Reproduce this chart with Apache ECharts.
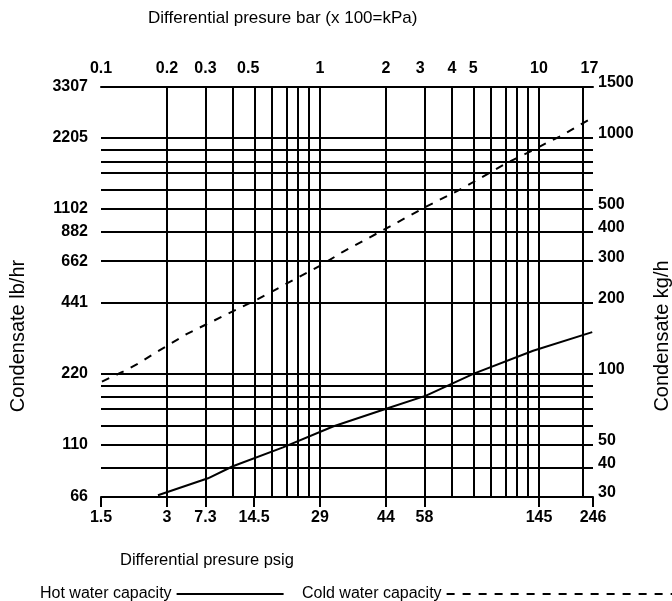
<!DOCTYPE html>
<html>
<head>
<meta charset="utf-8">
<script src="https://cdn.jsdelivr.net/npm/echarts@6/dist/echarts.min.js"></script>
<style>
html,body{margin:0;padding:0;background:#fff;}
#chart{width:672px;height:601px;}
</style>
</head>
<body>
<div id="chart"></div>
<script>
// ---- Data (bar on x, kg/h on y; both log scales) ----
const hotBar = [0.182, 0.308, 0.40, 0.678, 1.146, 2.02, 3.05, 5.04, 9.4, 17.5];
const hotKg  = [30.5, 36, 40.5, 48.7, 59.7, 71.2, 80.7, 100, 125, 150];
const coldBar = [0.101, 0.126, 0.147, 0.173, 0.247, 0.52, 1.03, 1.26, 2.09, 3.01, 4.45, 7.14, 9.1, 10.9, 12.9, 15.1, 17.5];
const coldKg  = [92.5, 102, 110, 121, 147.5, 207, 291, 327, 421, 507, 609, 783, 873, 953, 1030, 1124, 1214];

// axis ranges
const xMin = 0.1, xMax = 17.64;
const yMin = 30, yMax = 1641;

// grid lines
const barGrid = [0.2,0.3,0.4,0.5,0.6,0.7,0.8,0.9,1,2,3,4,5,6,7,8,9,10,16];
const kgGrid = [40,50,60,70,80,90,100,200,300,400,500,600,700,800,900,1000];

// tick labels
const topTickVals = [0.1,0.2,0.3,0.47,1,2,2.87,4,5,10,17];
const topTickText = ['0.1','0.2','0.3','0.5','1','2','3','4','5','10','17'];
const bottomTickVals = [0.1,0.2,0.3,0.5,1,2,3,10,17.64];
const bottomTickText = ['1.5','3','7.3','14.5','29','44','58','145','246'];
const leftTickVals = [1641,1000,500,400,300,200,100,50,30];
const leftTickText = ['3307','2205','1102','882','662','441','220','110','66'];
const leftTickMarks = [1641,1000,500,400,300,200,100,50,40,30];
const rightTickVals = [1641,1000,500,400,300,200,100,50,40,30];
const rightTickText = ['1500','1000','500','400','300','200','100','50','40','30'];
const rightTickMarks = [1000,500,400,300,200,100,50,40,30];

const L = v => Math.log10(v);
const pairs = (xs, ys) => xs.map((x, i) => [L(x), L(ys[i])]);
function fmt(vals, texts, wrap) {
  return function (value) {
    for (let i = 0; i < vals.length; i++) {
      if (Math.abs(L(vals[i]) - value) < 1e-6) return wrap ? '{a|' + texts[i] + '}' : texts[i];
    }
    return '';
  };
}

const FONT = 'Liberation Sans, Arial, sans-serif';
const labelStyle = { fontFamily: FONT, fontSize: 16, fontWeight: 'bold', color: '#000' };
const axisLineStyle = { show: true, lineStyle: { color: '#000', width: 2 } };

const chart = echarts.init(document.getElementById('chart'), null, { renderer: 'canvas' });

const markLines = [];
barGrid.forEach(v => markLines.push({ xAxis: L(v) }));
kgGrid.forEach(v => markLines.push({ yAxis: L(v) }));

const legendText = { fontFamily: FONT, fontSize: 16, color: '#000' };

chart.setOption({
  animation: false,
  backgroundColor: '#fff',
  color: ['#000', '#000'],
  grid: { left: 101, right: 79, top: 87, bottom: 104, containLabel: false },
  xAxis: [
    {
      type: 'value', position: 'bottom', min: L(xMin), max: L(xMax),
      axisLine: axisLineStyle,
      splitLine: { show: false },
      axisTick: { show: true, inside: false, length: 10, lineStyle: { color: '#000', width: 2 },
        customValues: bottomTickVals.map(L) },
      axisLabel: Object.assign({ margin: 13, customValues: bottomTickVals.map(L),
        formatter: fmt(bottomTickVals, bottomTickText) }, labelStyle)
    },
    {
      type: 'value', position: 'top', min: L(xMin), max: L(xMax),
      axisLine: axisLineStyle,
      splitLine: { show: false },
      axisTick: { show: false },
      axisLabel: Object.assign({ margin: 10, customValues: topTickVals.map(L),
        formatter: fmt(topTickVals, topTickText) }, labelStyle)
    }
  ],
  yAxis: [
    {
      type: 'value', position: 'left', min: L(yMin), max: L(yMax),
      axisLine: axisLineStyle,
      splitLine: { show: false },
      axisTick: { show: true, inside: false, length: 11, lineStyle: { color: '#000', width: 2 },
        customValues: leftTickMarks.map(L) },
      axisLabel: Object.assign({ margin: 13, customValues: leftTickVals.map(L),
        formatter: fmt(leftTickVals, leftTickText) }, labelStyle)
    },
    {
      type: 'value', position: 'right', min: L(yMin), max: L(yMax),
      axisLine: axisLineStyle,
      splitLine: { show: false },
      axisTick: { show: true, inside: false, length: 7, lineStyle: { color: '#000', width: 2 },
        customValues: rightTickMarks.map(L) },
      axisLabel: Object.assign({ margin: 5, customValues: rightTickVals.map(L),
        formatter: fmt(rightTickVals, rightTickText, true),
        rich: { a: { fontFamily: FONT, fontSize: 16, fontWeight: 'bold', color: '#000', padding: [0, 0, 8, 0] } }
      }, labelStyle)
    }
  ],
  legend: [
    {
      data: ['Hot water capacity'], left: 35, top: 581, align: 'right',
      itemWidth: 107, itemHeight: 14, itemGap: 8, selectedMode: false,
      itemStyle: { opacity: 0 },
      textStyle: legendText
    },
    {
      data: ['Cold water capacity'], left: 297, top: 581, align: 'right',
      itemWidth: 240, itemHeight: 14, itemGap: 8, selectedMode: false,
      itemStyle: { opacity: 0 },
      textStyle: legendText
    }
  ],
  graphic: [
    { type: 'text', left: 148, top: 10,
      style: { text: 'Differential presure bar (x 100=kPa)', font: '17px ' + FONT, fill: '#000' } },
    { type: 'text', left: 120, top: 552,
      style: { text: 'Differential presure psig', font: '16.5px ' + FONT, fill: '#000' } },
    { type: 'text', x: 18, y: 336, rotation: Math.PI / 2,
      style: { text: 'Condensate lb/hr', font: '20px ' + FONT, fill: '#000', align: 'center', verticalAlign: 'middle' } },
    { type: 'text', x: 662, y: 336, rotation: Math.PI / 2,
      style: { text: 'Condensate kg/h', font: '20px ' + FONT, fill: '#000', align: 'center', verticalAlign: 'middle' } }
  ],
  series: [
    {
      name: 'Hot water capacity', type: 'line', xAxisIndex: 0, yAxisIndex: 0,
      data: pairs(hotBar, hotKg), symbol: 'none', smooth: false,
      itemStyle: { color: '#000' },
      lineStyle: { color: '#000', width: 2, type: 'solid' },
      z: 3,
      markLine: {
        silent: true, symbol: ['none', 'none'], animation: false,
        label: { show: false },
        lineStyle: { color: '#000', width: 2, type: 'solid' },
        data: markLines
      }
    },
    {
      name: 'Cold water capacity', type: 'line', xAxisIndex: 0, yAxisIndex: 0,
      data: pairs(coldBar, coldKg), symbol: 'none', smooth: false,
      itemStyle: { color: '#000' },
      lineStyle: { color: '#000', width: 2, type: [8, 8] },
      z: 3
    }
  ]
});
</script>
</body>
</html>
